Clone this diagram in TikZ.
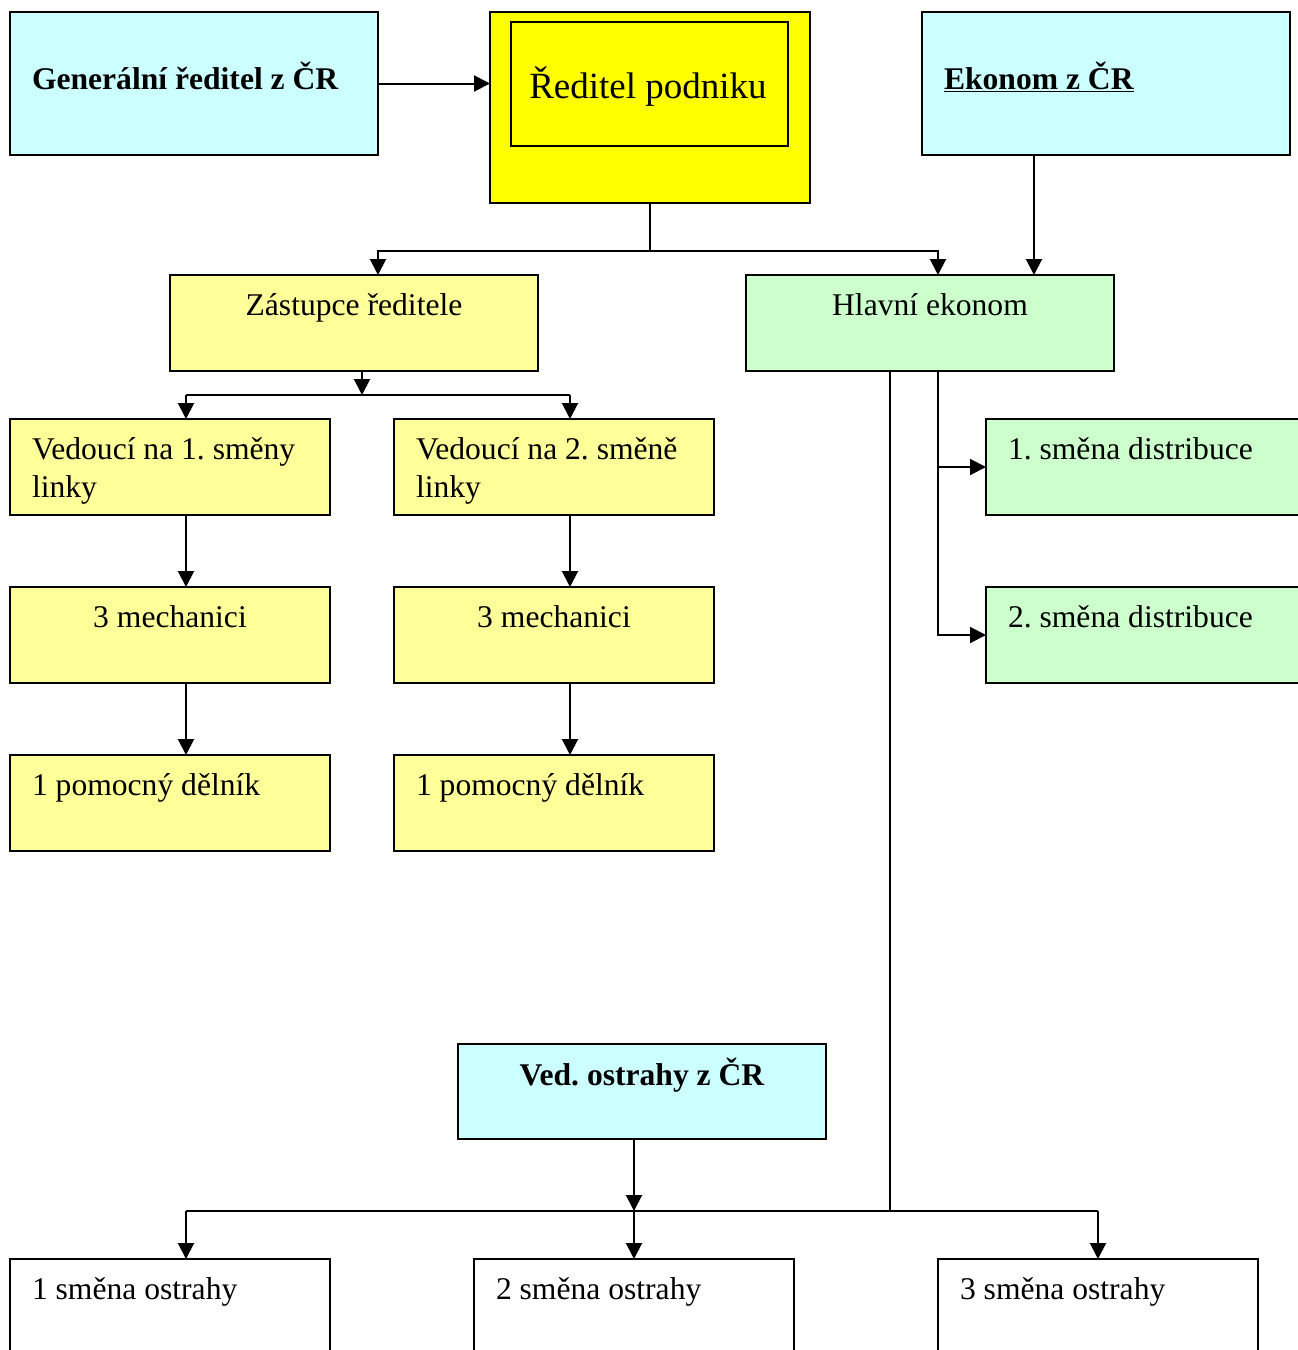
\documentclass[tikz,border=0pt]{standalone}
\usepackage{fontspec}
\setmainfont{Liberation Serif}
\usetikzlibrary{arrows.meta}
\frenchspacing
\definecolor{cyanbox}{HTML}{CCFFFF}
\definecolor{yelbox}{HTML}{FFFF00}
\definecolor{ltyel}{HTML}{FFFF99}
\definecolor{ltgreen}{HTML}{CCFFCC}
\tikzset{
  box/.style={draw, line width=2pt, inner sep=0pt, outer sep=0pt, anchor=north west, rectangle},
  conn/.style={line width=2pt},
  arr/.style={line width=2pt, -{Triangle[length=16pt,width=16pt]}},
  txt/.style={inner sep=0pt, outer sep=0pt, anchor=base west, font=\fontsize{31.6}{38}\selectfont, align=left},
  ctxt/.style={inner sep=0pt, outer sep=0pt, anchor=base, font=\fontsize{31.6}{38}\selectfont},
}
\begin{document}
\begin{tikzpicture}[x=1pt,y=-1pt]
\useasboundingbox (0,0) rectangle (1298,1350);
\clip (0,0) rectangle (1298,1350);
% boxes
\node[box, fill=cyanbox, minimum width=368pt, minimum height=143pt] (gen) at (10,12) {};
\node[box, fill=yelbox, minimum width=320pt, minimum height=191pt] (red) at (490,12) {};
\node[box, fill=yelbox, minimum width=277pt, minimum height=124pt] (redin) at (511,22) {};
\node[box, fill=cyanbox, minimum width=368pt, minimum height=143pt] (eko) at (922,12) {};
\node[box, fill=ltyel, minimum width=368pt, minimum height=96pt] (zast) at (170,275) {};
\node[box, fill=ltgreen, minimum width=368pt, minimum height=96pt] (hl) at (746,275) {};
\node[box, fill=ltyel, minimum width=320pt, minimum height=96pt] (v1) at (10,419) {};
\node[box, fill=ltyel, minimum width=320pt, minimum height=96pt] (v2) at (394,419) {};
\node[box, fill=ltyel, minimum width=320pt, minimum height=96pt] (m1) at (10,587) {};
\node[box, fill=ltyel, minimum width=320pt, minimum height=96pt] (m2) at (394,587) {};
\node[box, fill=ltyel, minimum width=320pt, minimum height=96pt] (p1) at (10,755) {};
\node[box, fill=ltyel, minimum width=320pt, minimum height=96pt] (p2) at (394,755) {};
\node[box, fill=ltgreen, minimum width=330pt, minimum height=96pt] (d1) at (986,419) {};
\node[box, fill=ltgreen, minimum width=330pt, minimum height=96pt] (d2) at (986,587) {};
\node[box, fill=cyanbox, minimum width=368pt, minimum height=95pt] (vo) at (458,1044) {};
\node[box, fill=white, minimum width=320pt, minimum height=110pt] (o1) at (10,1259) {};
\node[box, fill=white, minimum width=320pt, minimum height=110pt] (o2) at (474,1259) {};
\node[box, fill=white, minimum width=320pt, minimum height=110pt] (o3) at (938,1259) {};
% texts
\node[txt, font=\fontsize{31.6}{38}\selectfont\bfseries] (tgen) at (32,89) {Generální ředitel z ČR};
\node[ctxt, font=\fontsize{37}{44}\selectfont] (tred) at (648,98) {Ředitel podniku};
\node[txt, font=\fontsize{31.6}{38}\selectfont\bfseries] (teko) at (944,89) {\underline{Ekonom z ČR}};
\node[ctxt] (tzast) at (354,315) {Zástupce ředitele};
\node[ctxt] (thl) at (930,315) {Hlavní ekonom};
\node[txt] (tv1) at (32,497) {Vedoucí na 1. směny\\linky};
\node[txt] (tv2) at (416,497) {Vedoucí na 2. směně\\linky};
\node[ctxt] (tm1) at (170,627) {3 mechanici};
\node[ctxt] (tm2) at (554,627) {3 mechanici};
\node[txt] (tp1) at (32,795) {1 pomocný dělník};
\node[txt] (tp2) at (416,795) {1 pomocný dělník};
\node[txt] (td1) at (1008,459) {1. směna distribuce};
\node[txt] (td2) at (1008,627) {2. směna distribuce};
\node[ctxt, font=\fontsize{31.6}{38}\selectfont\bfseries] (tvo) at (642,1085) {Ved. ostrahy z ČR};
\node[txt] (to1) at (32,1299) {1 směna ostrahy};
\node[txt] (to2) at (496,1299) {2 směna ostrahy};
\node[txt] (to3) at (960,1299) {3 směna ostrahy};
% coordinates
\coordinate (j1) at (650,251);
\coordinate (j1L) at (378,251);
\coordinate (j1R) at (938,251);
\coordinate (ek) at (1034,155);
\coordinate (j2) at (362,395);
\coordinate (j2L) at (186,395);
\coordinate (j2R) at (570,395);
\coordinate (h1) at (938,467);
\coordinate (h2) at (938,635);
\coordinate (k) at (890,1211);
\coordinate (kL) at (186,1211);
\coordinate (kM) at (634,1211);
\coordinate (kR) at (1098,1211);
% connectors
\draw[arr] (gen.east) -- (red.west |- gen.east);
\draw[conn] (red.south) -- (j1);
\draw[arr] (j1) -- (j1L) -- (zast.north -| j1L);
\draw[arr] (j1) -- (j1R) -- (hl.north -| j1R);
\draw[arr] (eko.south -| ek) -- (hl.north -| ek);
\draw[arr] (zast.south -| j2) -- (j2);
\draw[conn] (j2L) -- (j2R);
\draw[arr] (j2L) -- (v1.north -| j2L);
\draw[arr] (j2R) -- (v2.north -| j2R);
\draw[arr] (v1.south -| j2L) -- (m1.north -| j2L);
\draw[arr] (m1.south -| j2L) -- (p1.north -| j2L);
\draw[arr] (v2.south -| j2R) -- (m2.north -| j2R);
\draw[arr] (m2.south -| j2R) -- (p2.north -| j2R);
\draw[arr] (hl.south -| h1) -- (h2) -- (d2.west |- h2);
\draw[arr] (h1) -- (d1.west |- h1);
\draw[conn] (hl.south -| k) -- (k) -- (kL);
\draw[conn] (k) -- (kR);
\draw[arr] (vo.south -| kM) -- (kM);
\draw[arr] (kL) -- (o1.north -| kL);
\draw[arr] (kM) -- (o2.north -| kM);
\draw[arr] (kR) -- (o3.north -| kR);
\end{tikzpicture}
\end{document}
